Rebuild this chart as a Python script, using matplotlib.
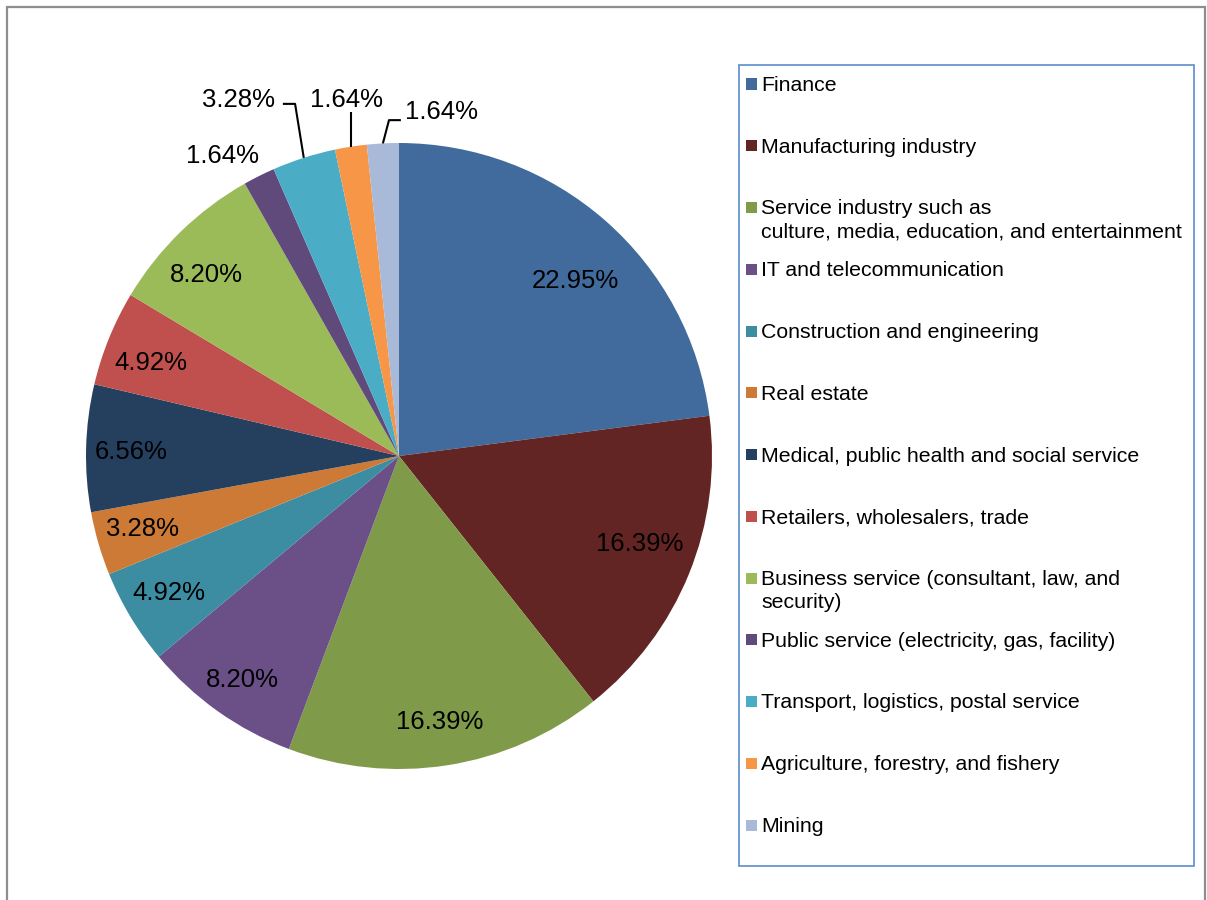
import numpy as np
import matplotlib
matplotlib.use("Agg")
import matplotlib.pyplot as plt
from matplotlib.patches import Rectangle

# ---- data -------------------------------------------------------------
sectors = [
    "Finance",
    "Manufacturing industry",
    "Service industry such as\nculture, media, education, and entertainment",
    "IT and telecommunication",
    "Construction and engineering",
    "Real estate",
    "Medical, public health and social service",
    "Retailers, wholesalers, trade",
    "Business service (consultant, law, and\nsecurity)",
    "Public service (electricity, gas, facility)",
    "Transport, logistics, postal service",
    "Agriculture, forestry, and fishery",
    "Mining",
]
shares = [22.95, 16.39, 16.39, 8.20, 4.92, 3.28, 6.56, 4.92, 8.20, 1.64, 3.28, 1.64, 1.64]
colors = ["#416B9C", "#632523", "#7F9A48", "#6A5086", "#3C8CA2", "#CD7A37",
          "#253F5F", "#C0504D", "#9BBB59", "#604A7B", "#4BACC6", "#F79646", "#A9B9D8"]

plt.rcParams["font.family"] = ["Liberation Sans", "DejaVu Sans"]

W, H = 1207, 900
fig = plt.figure(figsize=(W / 100, H / 100), dpi=100)


def fx(px):
    return px / W


def fy(py):
    return 1 - py / H


# outer chart border (bottom edge runs below the canvas)
fig.patches.append(Rectangle((fx(7), fy(912)), fx(1205) - fx(7), fy(7) - fy(912),
                             transform=fig.transFigure, fill=False,
                             edgecolor="#8E8E8E", linewidth=1.6))

# ---- pie --------------------------------------------------------------
cx, cy, R = 399, 456, 313
ax = fig.add_axes([fx(cx - R), fy(cy + R), 2 * R / W, 2 * R / H])
wedges, _ = ax.pie(shares, colors=colors, startangle=90, counterclock=False,
                   radius=1.0, wedgeprops=dict(linewidth=0))
ax.set_xlim(-1, 1)
ax.set_ylim(-1, 1)
ax.set_aspect("equal")
ax.axis("off")

fs_lbl = 18.5
dy_txt = -0.01  # nudge so digits sit visually centred
# inside labels: radial distance (fraction of radius) and angular nudge (deg)
label_r = [0.80, 0.815, 0.85, 0.865, 0.85, 0.85, 0.855, 0.85, 0.85]
label_da = [-3.5, 2.6, 0, 0, -0.9, -1.0, 0, 1.0, 2.0]

for i, w in enumerate(wedges[:len(label_r)]):
    mid = np.deg2rad((w.theta1 + w.theta2) / 2 + label_da[i])
    r = label_r[i]
    ax.text(r * np.cos(mid), r * np.sin(mid) + dy_txt, f"{shares[i]:.2f}%",
            ha="center", va="center", fontsize=fs_lbl, color="black")

# outside labels with leader lines for the small slices
outside = {
    9: dict(text=(-0.565, 0.968), path=None),
    10: dict(text=(-0.514, 1.147), path=[(-0.332, 1.125), (-0.371, 1.125)]),
    11: dict(text=(-0.168, 1.147), path=[(None, 1.099)]),
    12: dict(text=(0.136, 1.109), path=[(-0.032, 1.073), (0.006, 1.073)]),
}
for i, spec in outside.items():
    w = wedges[i]
    mid = np.deg2rad((w.theta1 + w.theta2) / 2)
    ex, ey = np.cos(mid), np.sin(mid)
    tx, ty = spec["text"]
    ax.text(tx, ty + dy_txt, f"{shares[i]:.2f}%", ha="center", va="center",
            fontsize=fs_lbl, color="black", clip_on=False)
    if spec["path"]:
        xs, ys = [ex], [ey]
        for px, py in spec["path"]:
            xs.append(ex if px is None else px)
            ys.append(py)
        ax.plot(xs, ys, color="black", linewidth=1.5, clip_on=False,
                solid_capstyle="butt")

# ---- legend -----------------------------------------------------------
fig.patches.append(Rectangle((fx(739), fy(866)), fx(1194) - fx(739), fy(65) - fy(866),
                             transform=fig.transFigure, fill=False,
                             edgecolor="#5B8CCB", linewidth=1.2))
fs_leg = 15.3
y0, pitch, line_gap = 84, 61.75, 23
for i, (name, col) in enumerate(zip(sectors, colors)):
    yc = y0 + i * pitch
    fig.patches.append(Rectangle((fx(746), fy(yc + 5.5)), fx(11), 11 / H,
                                 transform=fig.transFigure, facecolor=col,
                                 edgecolor="none"))
    for j, line in enumerate(name.split("\n")):
        fig.text(fx(761), fy(yc + j * line_gap + 1.5), line, ha="left", va="center",
                 fontsize=fs_leg, color="black")

fig.savefig("out.png", dpi=100, facecolor="white")
